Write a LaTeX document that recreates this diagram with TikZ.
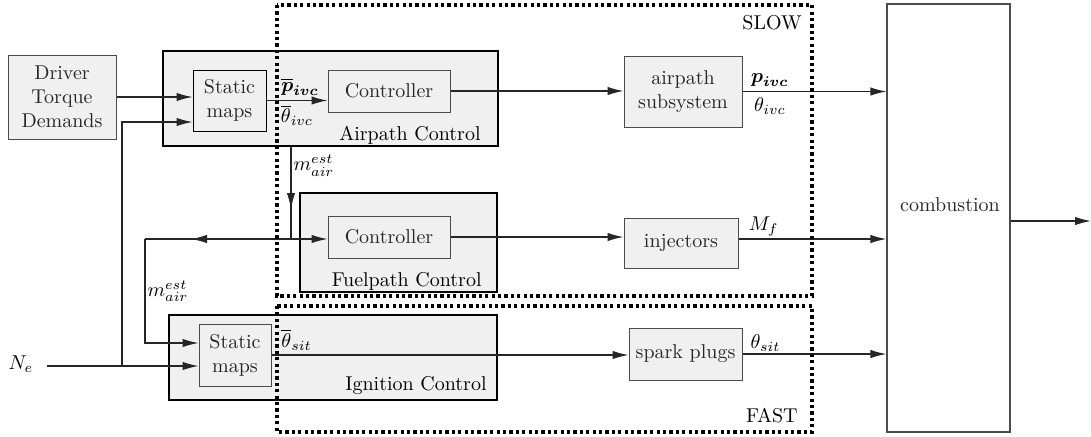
\documentclass[tikz,border=0pt]{standalone}
\usepackage{amsmath}
\usetikzlibrary{calc,arrows.meta}

\begin{document}
\begin{tikzpicture}[x=0.5pt, y=-0.5pt,
    blk/.style={draw=black!70, line width=0.5pt, fill=black!6,
      align=center, inner sep=0pt, text=black!85},
    ctl/.style={draw=black, line width=1pt, fill=black!6, inner sep=0pt},
    sig/.style={draw=black!85, line width=0.6pt, -{Latex[length=8pt,width=4.2pt]}},
    wire/.style={draw=black!85, line width=0.6pt},
    zone/.style={draw=black, line width=1.6pt, dash pattern=on 1.6pt off 1.6pt}
  ]
  \useasboundingbox (0,0) rectangle (1091,436);

  % control boxes
  \node (airbox) [ctl, minimum width=167.5pt, minimum height=47.5pt] at (330.5,98.5) {};
  \node (fuelbox) [ctl, minimum width=98.5pt, minimum height=49.5pt] at (398.5,242) {};
  \node (ignbox) [ctl, minimum width=164pt, minimum height=42.5pt] at (333,357) {};
  \node (air-title) [anchor=base east, inner sep=0pt] at (481,140) {Airpath Control};
  \node (fuel-title) [anchor=base east, inner sep=0pt] at (482,286) {Fuelpath Control};
  \node (ign-title) [anchor=base east, inner sep=0pt] at (487,390) {Ignition Control};

  % blocks
  \node (driver) [blk, minimum width=54pt, minimum height=42pt] at (62,97) {Driver\\Torque\\Demands};
  \node (smapA) [blk, draw=black, minimum width=36.5pt, minimum height=30.5pt] at (229.5,100.5) {Static\\maps};
  \node (ctrlA) [blk, minimum width=61pt, minimum height=21pt] at (389,91) {Controller};
  \node (airsub) [blk, minimum width=59pt, minimum height=35.5pt] at (683,91.5) {airpath\\subsystem};
  \node (ctrlF) [blk, minimum width=61pt, minimum height=21pt] at (389,237) {Controller};
  \node (inj) [blk, minimum width=57pt, minimum height=25pt] at (681,243) {injectors};
  \node (smapI) [blk, minimum width=36pt, minimum height=31pt] at (235,355) {Static\\maps};
  \node (spark) [blk, minimum width=56.5pt, minimum height=26pt] at (685.5,354) {spark plugs};
  \node (comb) [draw=black!70, line width=0.6pt, minimum width=61.5pt, minimum height=214pt] at (948.5,218) {};
  \node (comb-text) [text=black!85] at (950,205) {combustion};

  \node (ne) at (21,364) {$N_e$};

  \coordinate (ne-start) at (47,366);
  \coordinate (ne-tap) at (122,366);
  \coordinate (mair-split) at (291,239);
  \coordinate (mair-mid) at (291,209);
  \coordinate (mair-tip) at (191,239);
  \coordinate (mair-turn) at (145,239);
  \coordinate (out) at (1091,221);

  % signals
  \draw[sig] (driver.east) -- (driver.east -| smapA.west);
  \draw[sig] (ne-start) -- (ne-start -| smapI.west);
  \draw[sig] (ne-tap) |- ($(smapA.west)+(0,21.5)$);

  \draw[sig] (smapA.east) -- node [above, pos=.55, inner sep=2pt] {$\overline{\boldsymbol{p}}_{\boldsymbol{ivc}}$}
    node [below, pos=.5, inner sep=2pt] {$\overline{\theta}_{ivc}$} (smapA.east -| ctrlA.west);
  \draw[sig] (ctrlA.east) -- (ctrlA.east -| airsub.west);
  \draw[sig] (airsub.east) -- node [above, pos=.19, inner sep=2pt] {$\boldsymbol{p}_{\boldsymbol{ivc}}$}
    node [below, pos=.19, inner sep=3pt] {$\theta_{ivc}$} (airsub.east -| comb.west);

  % estimated air mass, shared by fuel and ignition
  \draw[wire] (airbox.south -| mair-mid) -- (mair-split);
  \draw[sig] (airbox.south -| mair-mid) -- node [right, pos=.3, inner sep=1pt] {$m_{air}^{est}$} (mair-mid);
  \draw[sig] (mair-split) -- (mair-split -| ctrlF.west);
  \draw[wire] (mair-split) -- (mair-turn);
  \draw[sig] (mair-split) -- (mair-tip);
  \draw[sig] (mair-turn) |- node [pos=.25, right, inner sep=1pt] {$m_{air}^{est}$} ($(smapI.west)+(0,-12)$);

  \draw[sig] (ctrlF.east) -- (ctrlF.east -| inj.west);
  \draw[sig] (inj.east |- mair-split) -- node [above, pos=.17, inner sep=1pt] {$M_f$} (mair-split -| comb.west);

  \draw[sig] (smapI.east) -- node [above, pos=.07, inner sep=2pt] {$\overline{\theta}_{sit}$} (smapI.east -| spark.west);
  \draw[sig] (spark.east) -- node [above, pos=.16, inner sep=1pt] {$\theta_{sit}$} (spark.east -| comb.west);

  \draw[sig] (comb.east |- out) -- (out);

  % time scales
  \draw[zone] (277,5) rectangle (812,296);
  \draw[zone] (277,306) rectangle (812,432);
  \node (slow-lbl) [anchor=north east, inner sep=0pt] at (802,15) {SLOW};
  \node (fast-lbl) [anchor=base east, inner sep=0pt] at (798,422) {FAST};
\end{tikzpicture}
\end{document}
